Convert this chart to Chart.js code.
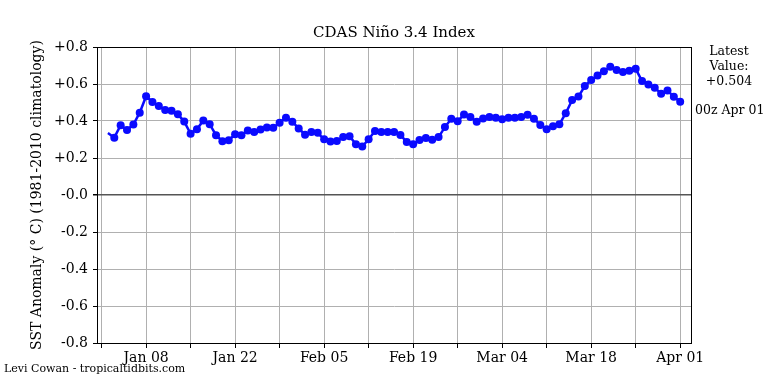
<!DOCTYPE html>
<html>
<head>
<meta charset="utf-8">
<script src="https://cdn.jsdelivr.net/npm/chart.js@4.4.1/dist/chart.umd.min.js"></script>
<style>
  html, body { margin: 0; padding: 0; background: #fff; }
  #wrap { width: 768px; height: 384px; position: relative; }
</style>
</head>
<body>
<div id="wrap"><canvas id="nino"></canvas></div>
<script>
// CDAS Nino 3.4 daily index, Jan 02 - Apr 01 (x = days since Jan 01)
const START_DAY = 1;
const anomaly = [
  0.335, 0.31, 0.377, 0.351, 0.381, 0.445, 0.534, 0.503, 0.481, 0.459,
  0.456, 0.436, 0.397, 0.331, 0.355, 0.403, 0.383, 0.323, 0.291, 0.296,
  0.328, 0.323, 0.349, 0.34, 0.354, 0.365, 0.363, 0.39, 0.417, 0.396,
  0.36, 0.326, 0.34, 0.336, 0.301, 0.289, 0.292, 0.313, 0.318, 0.274,
  0.262, 0.301, 0.346, 0.34, 0.34, 0.34, 0.324, 0.287, 0.275, 0.297,
  0.308, 0.298, 0.313, 0.367, 0.412, 0.398, 0.435, 0.422, 0.396, 0.413,
  0.422, 0.417, 0.41, 0.417, 0.418, 0.422, 0.434, 0.412, 0.379, 0.355,
  0.372, 0.382, 0.442, 0.513, 0.532, 0.589, 0.621, 0.646, 0.669, 0.693,
  0.676, 0.665, 0.672, 0.682, 0.616, 0.597, 0.58, 0.547, 0.565, 0.531,
  0.504
];

// x ticks every week, labels every other week
const xTickDays = [0, 7, 14, 21, 28, 35, 42, 49, 56, 63, 70, 77, 84, 91];
const xLabelDays = [7, 21, 35, 49, 63, 77, 91];
const xLabels = ['Jan 08', 'Jan 22', 'Feb 05', 'Feb 19', 'Mar 04', 'Mar 18', 'Apr 01'];

const yTickValues = [0.8, 0.6, 0.4, 0.2, 0, -0.2, -0.4, -0.6, -0.8];
const yTickLabels = ['+0.8', '+0.6', '+0.4', '+0.2', '-0.0', '-0.2', '-0.4', '-0.6', '-0.8'];

const latestValue = '+0.504';
const latestTime = '00z Apr 01';

const SERIF = '"DejaVu Serif", serif';
const points = anomaly.map((v, i) => ({ x: START_DAY + i, y: v }));

// Frame, title and side texts
const decorPlugin = {
  id: 'decor',
  afterDraw(chart) {
    const { ctx, chartArea: a } = chart;
    ctx.save();
    ctx.strokeStyle = '#000';
    ctx.lineWidth = 1;
    ctx.strokeRect(a.left + 0.5, a.top + 0.5, a.right - a.left, a.bottom - a.top);

    ctx.fillStyle = '#000';
    ctx.textAlign = 'center';
    ctx.textBaseline = 'middle';
    ctx.font = '15px ' + SERIF;
    ctx.fillText('CDAS Niño 3.4 Index', (a.left + a.right) / 2, 33);

    ctx.font = '12.5px ' + SERIF;
    ctx.fillText('Latest', 729, 52);
    ctx.fillText('Value:', 729, 67);
    ctx.fillText(latestValue, 729, 82);
    ctx.textAlign = 'left';
    ctx.fillText(latestTime, 695, 111);

    ctx.font = '11px ' + SERIF;
    ctx.fillText('Levi Cowan - tropicaltidbits.com', 4, 369);

    // y axis title
    ctx.translate(37, (a.top + a.bottom) / 2);
    ctx.rotate(-Math.PI / 2);
    ctx.textAlign = 'center';
    ctx.font = '14px ' + SERIF;
    ctx.fillText('SST Anomaly (° C) (1981-2010 climatology)', 0, 0);
    ctx.restore();
  }
};

const ctx = document.getElementById('nino').getContext('2d');
new Chart(ctx, {
  type: 'line',
  data: {
    datasets: [{
      data: points,
      borderColor: '#0a0aff',
      backgroundColor: '#0a0aff',
      borderWidth: 2.5,
      pointRadius: c => (c.dataIndex === 0 ? 0 : 4),
      pointBorderWidth: 0,
      tension: 0
    }]
  },
  options: {
    responsive: true,
    maintainAspectRatio: false,
    animation: false,
    layout: { padding: { left: 0, right: 77, top: 47, bottom: 0 } },
    plugins: { legend: { display: false }, tooltip: { enabled: false } },
    scales: {
      x: {
        type: 'linear',
        min: -0.72,
        max: 92.7,
        afterBuildTicks: s => { s.ticks = xTickDays.map(v => ({ value: v })); },
        afterFit: s => { s.height = 41; },
        grid: { color: '#b0b0b0', lineWidth: 1, tickColor: '#000', tickLength: 5 },
        border: { display: true, color: '#000', width: 1 },
        ticks: {
          autoSkip: false,
          maxRotation: 0,
          padding: 2,
          color: '#000',
          font: { family: SERIF, size: 14 },
          callback: v => {
            const k = xLabelDays.indexOf(v);
            return k >= 0 ? xLabels[k] : '';
          }
        }
      },
      y: {
        min: -0.8,
        max: 0.8,
        afterBuildTicks: s => { s.ticks = yTickValues.map(v => ({ value: v })); },
        afterFit: s => { s.width = 97; },
        grid: {
          color: c => (c.tick && Math.abs(c.tick.value) < 1e-9 ? '#555' : '#b0b0b0'),
          lineWidth: c => (c.tick && Math.abs(c.tick.value) < 1e-9 ? 1.5 : 1),
          tickColor: '#000',
          tickLength: 4
        },
        border: { display: true, color: '#000', width: 1 },
        ticks: {
          padding: 5,
          color: '#000',
          font: { family: SERIF, size: 14 },
          callback: v => {
            const k = yTickValues.findIndex(t => Math.abs(t - v) < 1e-9);
            return k >= 0 ? yTickLabels[k] : '';
          }
        }
      }
    }
  },
  plugins: [decorPlugin]
});
</script>
</body>
</html>
